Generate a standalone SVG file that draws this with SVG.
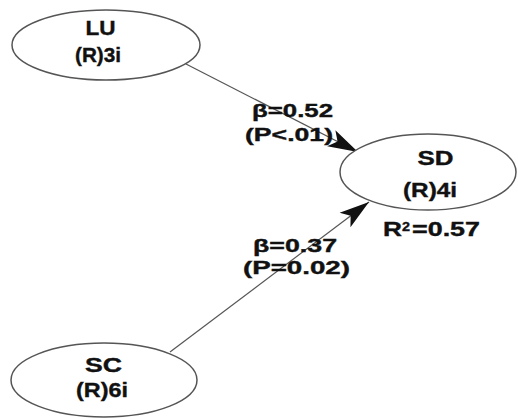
<svg xmlns="http://www.w3.org/2000/svg" width="518" height="418" viewBox="0 0 518 418">
  <defs>
    <marker id="arrow" viewBox="0 0 30 20" refX="30" refY="10" markerWidth="30" markerHeight="20" markerUnits="userSpaceOnUse" orient="auto">
      <path d="M0,1 L30,10 L0,19 L7,10 Z" fill="#111"/>
    </marker>
    <style>
      .node { fill: #fff; stroke: #555; stroke-width: 1.5; }
      .edge { fill: none; stroke: #555; stroke-width: 1.2; }
      text { font-family: "Liberation Sans", Arial, sans-serif; font-weight: bold; fill: #111; stroke: #111; stroke-width: 0.4; }
      .lbl { font-size: 21px; text-anchor: middle; }
      .path { font-size: 19px; }
    </style>
  </defs>
  <rect width="518" height="418" fill="#fff"/>

  <g id="connectors">
    <line class="edge" x1="186" y1="64" x2="358" y2="152" marker-end="url(#arrow)"/>
    <line class="edge" x1="170" y1="352" x2="369" y2="202" marker-end="url(#arrow)"/>
  </g>

  <g id="LU">
    <ellipse class="node" cx="106" cy="45" rx="94" ry="35"/>
    <text class="lbl" x="100.5" y="35" textLength="30" lengthAdjust="spacingAndGlyphs">LU</text>
    <text class="lbl" x="98" y="62" textLength="46" lengthAdjust="spacingAndGlyphs">(R)3i</text>
  </g>

  <g id="SD">
    <ellipse class="node" cx="428" cy="172" rx="88" ry="38"/>
    <text class="lbl" x="435.5" y="165" textLength="36" lengthAdjust="spacingAndGlyphs">SD</text>
    <text class="lbl" x="430" y="197" textLength="54" lengthAdjust="spacingAndGlyphs">(R)4i</text>
    <text x="383" y="236" font-size="21" textLength="19" lengthAdjust="spacingAndGlyphs">R</text>
    <text x="402" y="231" font-size="13" textLength="8" lengthAdjust="spacingAndGlyphs">2</text>
    <text x="412" y="236" font-size="21" textLength="68" lengthAdjust="spacingAndGlyphs">=0.57</text>
  </g>

  <g id="SC">
    <ellipse class="node" cx="104" cy="380" rx="93" ry="37"/>
    <text class="lbl" x="103.5" y="372" textLength="37" lengthAdjust="spacingAndGlyphs">SC</text>
    <text class="lbl" x="102" y="397" textLength="52" lengthAdjust="spacingAndGlyphs">(R)6i</text>
  </g>

  <g id="path-labels">
    <text class="path" x="252" y="117" textLength="81" lengthAdjust="spacingAndGlyphs">β=0.52</text>
    <text class="path" x="245" y="141" textLength="88" lengthAdjust="spacingAndGlyphs">(P&lt;.01)</text>
    <text class="path" x="253" y="252" textLength="84" lengthAdjust="spacingAndGlyphs">β=0.37</text>
    <text class="path" x="243" y="274" textLength="107" lengthAdjust="spacingAndGlyphs">(P=0.02)</text>
  </g>
</svg>
